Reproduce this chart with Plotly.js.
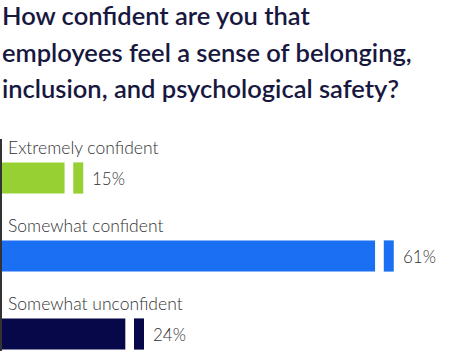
<!DOCTYPE html>
<html>
<head>
<meta charset="utf-8">
<script src="https://cdn.plot.ly/plotly-3.0.1.min.js"></script>
<style>
  html, body { margin: 0; padding: 0; background: #ffffff; }
  #chart { width: 466px; height: 351px; }
</style>
</head>
<body>
<div id="chart"></div>
<script>
// ---- data ----
const titleLines = [
  'How confident are you that',
  'employees feel a sense of belonging,',
  'inclusion, and psychological safety?'
];
const categories = ['Extremely confident', 'Somewhat confident', 'Somewhat unconfident'];
const values = [15, 61, 24];
const valueLabels = ['15%', '61%', '24%'];

// ---- styles ----
const barColors = ['#97d033', '#1b6ff3', '#07084a'];
const FONT = 'Lato, "Open Sans", sans-serif';
const SEG = 1.48;   // width of the small end segment (axis units)
const GAP = 1.29;   // gap before the end segment (axis units)
const AX_START = 2.963;

const mainTrace = {
  type: 'bar', orientation: 'h',
  y: categories,
  x: values.map(v => v - SEG - GAP),
  base: 0,
  width: 0.4,
  marker: { color: barColors, line: { width: 0 } },
  hoverinfo: 'skip'
};
const segTrace = {
  type: 'bar', orientation: 'h',
  y: categories,
  x: values.map(() => SEG),
  base: values.map(v => v - SEG),
  width: 0.4,
  marker: { color: barColors, line: { width: 0 } },
  hoverinfo: 'skip'
};

const annotations = [];
titleLines.forEach((t, i) => {
  annotations.push({
    text: t, xref: 'paper', yref: 'paper', x: 0, y: 1,
    xanchor: 'left', yanchor: 'middle',
    xshift: -2, yshift: [124, 87, 51][i],
    showarrow: false,
    font: { family: FONT, size: 25.5, weight: 600, color: '#18183f' }
  });
});
categories.forEach((c, i) => {
  annotations.push({
    text: c, xref: 'paper', yref: 'y', x: 0, y: c,
    xanchor: 'left', yanchor: 'middle', xshift: 4, yshift: 31,
    showarrow: false,
    font: { family: FONT, size: 17.5, weight: 300, color: '#333333' }
  });
  annotations.push({
    text: valueLabels[i], xref: 'x', yref: 'y', x: values[i], y: c,
    xanchor: 'left', yanchor: 'middle', xshift: 7, yshift: 0,
    showarrow: false,
    font: { family: FONT, size: 17, weight: 300, color: '#333333' }
  });
});

const layout = {
  width: 466, height: 351,
  margin: { l: 2, r: 0, t: 139, b: 0, pad: 0 },
  paper_bgcolor: '#ffffff', plot_bgcolor: '#ffffff',
  barmode: 'overlay',
  showlegend: false,
  xaxis: { range: [AX_START, 71.7], visible: false, fixedrange: true },
  yaxis: {
    type: 'category', range: [2.218, -0.5],
    showticklabels: false, showgrid: false, ticks: '',
    showline: true, linecolor: '#333333', linewidth: 2,
    fixedrange: true
  },
  annotations: annotations
};

Plotly.newPlot('chart', [mainTrace, segTrace], layout, { displayModeBar: false, staticPlot: true });
</script>
</body>
</html>
